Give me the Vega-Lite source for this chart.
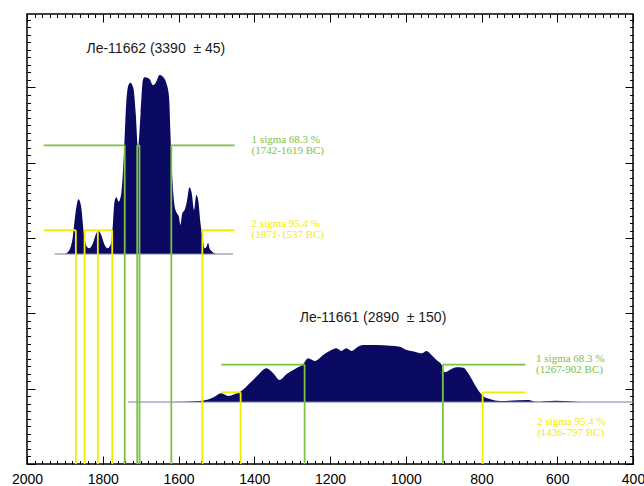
{
  "$schema": "https://vega.github.io/schema/vega-lite/v6.json",
  "width": 606,
  "height": 450,
  "autosize": {"type": "none"},
  "padding": {"left": 27, "top": 14, "right": 11, "bottom": 22},
  "background": "white",
  "config": {
    "view": {"stroke": "#000", "strokeWidth": 1.5},
    "axis": {"domain": false, "grid": false, "tickColor": "#000", "tickWidth": 1, "title": null}
  },
  "resolve": {"axis": {"x": "independent", "y": "independent"}},
  "datasets": {
    "dist1": [
      {"year": 1927, "v": 2.789}, {"year": 1901, "v": 2.789}, {"year": 1888, "v": 2.842}, {"year": 1879, "v": 3.019},
      {"year": 1872, "v": 3.329}, {"year": 1864, "v": 3.515}, {"year": 1857, "v": 3.417}, {"year": 1850, "v": 3.064},
      {"year": 1842, "v": 2.886}, {"year": 1835, "v": 2.865}, {"year": 1826, "v": 2.931}, {"year": 1817, "v": 3.064},
      {"year": 1811, "v": 3.098}, {"year": 1804, "v": 3.041}, {"year": 1795, "v": 2.908}, {"year": 1787, "v": 2.865},
      {"year": 1778, "v": 2.931}, {"year": 1773, "v": 3.197}, {"year": 1769, "v": 3.483}, {"year": 1764, "v": 3.542},
      {"year": 1758, "v": 3.483}, {"year": 1751, "v": 3.595}, {"year": 1744, "v": 4.126}, {"year": 1738, "v": 4.79},
      {"year": 1732, "v": 5.033}, {"year": 1727, "v": 5.064}, {"year": 1719, "v": 4.989}, {"year": 1713, "v": 4.657},
      {"year": 1707, "v": 4.2}, {"year": 1700, "v": 4.661}, {"year": 1694, "v": 5.1}, {"year": 1690, "v": 5.135},
      {"year": 1676, "v": 5.109}, {"year": 1668, "v": 5.033}, {"year": 1660, "v": 5.064}, {"year": 1650, "v": 5.166},
      {"year": 1641, "v": 5.143}, {"year": 1632, "v": 5.056}, {"year": 1625, "v": 4.878}, {"year": 1621, "v": 4.347},
      {"year": 1616, "v": 3.772}, {"year": 1610, "v": 3.417}, {"year": 1604, "v": 3.329}, {"year": 1599, "v": 3.284},
      {"year": 1595, "v": 3.174}, {"year": 1590, "v": 3.329}, {"year": 1584, "v": 3.373}, {"year": 1578, "v": 3.483},
      {"year": 1571, "v": 3.675}, {"year": 1565, "v": 3.595}, {"year": 1559, "v": 3.373}, {"year": 1553, "v": 3.572},
      {"year": 1548, "v": 3.506}, {"year": 1542, "v": 3.197}, {"year": 1537, "v": 3.019}, {"year": 1531, "v": 2.865},
      {"year": 1526, "v": 2.886}, {"year": 1522, "v": 2.939}, {"year": 1518, "v": 2.865}, {"year": 1511, "v": 2.819},
      {"year": 1500, "v": 2.789}, {"year": 1456, "v": 2.789}
    ],
    "dist2": [
      {"year": 1734, "v": 0.823}, {"year": 1619, "v": 0.823}, {"year": 1544, "v": 0.837}, {"year": 1518, "v": 0.863},
      {"year": 1505, "v": 0.894}, {"year": 1487, "v": 0.939}, {"year": 1469, "v": 0.903}, {"year": 1452, "v": 0.926},
      {"year": 1434, "v": 0.969}, {"year": 1412, "v": 1.072}, {"year": 1390, "v": 1.182}, {"year": 1368, "v": 1.271},
      {"year": 1350, "v": 1.205}, {"year": 1333, "v": 1.116}, {"year": 1315, "v": 1.191}, {"year": 1289, "v": 1.271},
      {"year": 1271, "v": 1.324}, {"year": 1258, "v": 1.404}, {"year": 1240, "v": 1.368}, {"year": 1218, "v": 1.448},
      {"year": 1201, "v": 1.501}, {"year": 1183, "v": 1.537}, {"year": 1170, "v": 1.501}, {"year": 1157, "v": 1.537},
      {"year": 1143, "v": 1.501}, {"year": 1126, "v": 1.558}, {"year": 1113, "v": 1.58}, {"year": 1077, "v": 1.58},
      {"year": 1042, "v": 1.571}, {"year": 1016, "v": 1.558}, {"year": 998, "v": 1.514}, {"year": 976, "v": 1.491},
      {"year": 958, "v": 1.47}, {"year": 945, "v": 1.501}, {"year": 932, "v": 1.448}, {"year": 919, "v": 1.381},
      {"year": 905, "v": 1.315}, {"year": 897, "v": 1.218}, {"year": 884, "v": 1.248}, {"year": 866, "v": 1.284},
      {"year": 848, "v": 1.279}, {"year": 835, "v": 1.205}, {"year": 822, "v": 1.093}, {"year": 809, "v": 0.983},
      {"year": 796, "v": 0.903}, {"year": 778, "v": 0.863}, {"year": 751, "v": 0.837}, {"year": 676, "v": 0.85},
      {"year": 658, "v": 0.827}, {"year": 605, "v": 0.841}, {"year": 517, "v": 0.823}, {"year": 400, "v": 0.823}
    ],
    "baselines": [
      {"year": 1927, "year2": 1456, "v": 2.789},
      {"year": 1734, "year2": 400, "v": 0.823}
    ],
    "hseg": [
      {"year": 1956, "year2": 1742, "v": 4.232, "sigma": "1"},
      {"year": 1709, "year2": 1703, "v": 4.232, "sigma": "1"},
      {"year": 1619, "year2": 1452, "v": 4.232, "sigma": "1"},
      {"year": 1487, "year2": 1267, "v": 1.321, "sigma": "1"},
      {"year": 902, "year2": 684, "v": 1.321, "sigma": "1"},
      {"year": 1956, "year2": 1871, "v": 3.104, "sigma": "2"},
      {"year": 1848, "year2": 1775, "v": 3.104, "sigma": "2"},
      {"year": 1537, "year2": 1452, "v": 3.104, "sigma": "2"},
      {"year": 1487, "year2": 1436, "v": 0.952, "sigma": "2"},
      {"year": 797, "year2": 684, "v": 0.952, "sigma": "2"}
    ],
    "vseg": [
      {"year": 1742, "v": 4.232, "sigma": "1"},
      {"year": 1709, "v": 4.232, "sigma": "1"},
      {"year": 1703, "v": 4.232, "sigma": "1"},
      {"year": 1619, "v": 4.232, "sigma": "1"},
      {"year": 1267, "v": 1.321, "sigma": "1"},
      {"year": 902, "v": 1.321, "sigma": "1"},
      {"year": 1871, "v": 3.104, "sigma": "2"},
      {"year": 1848, "v": 3.104, "sigma": "2"},
      {"year": 1813, "v": 3.104, "sigma": "2"},
      {"year": 1775, "v": 3.104, "sigma": "2"},
      {"year": 1537, "v": 3.104, "sigma": "2"},
      {"year": 1436, "v": 0.952, "sigma": "2"},
      {"year": 797, "v": 0.952, "sigma": "2"}
    ],
    "titles": [
      {"year": 1843, "v": 5.511, "t": "Ле-11662 (3390\u00a0 ± 45)"},
      {"year": 1280, "v": 1.935, "t": "Ле-11661 (2890\u00a0 ± 150)"}
    ],
    "sigmatext": [
      {"year": 1407, "v": 4.303, "t": "1 sigma 68.3 %", "sigma": "1"},
      {"year": 1407, "v": 4.157, "t": "(1742-1619 BC)", "sigma": "1"},
      {"year": 1407, "v": 3.187, "t": "2 sigma 95.4 %", "sigma": "2"},
      {"year": 1407, "v": 3.041, "t": "(1871-1537 BC)", "sigma": "2"},
      {"year": 656, "v": 1.39, "t": "1 sigma 68.3 %", "sigma": "1"},
      {"year": 656, "v": 1.248, "t": "(1267-902 BC)", "sigma": "1"},
      {"year": 653, "v": 0.562, "t": "2 sigma 95.4 %", "sigma": "2"},
      {"year": 653, "v": 0.408, "t": "(1436-797 BC)", "sigma": "2"}
    ]
  },
  "layer": [
    {
      "data": {"name": "dist1"},
      "mark": {"type": "area", "color": "#0b0a62", "interpolate": "monotone"},
      "encoding": {
        "x": {"field": "year", "type": "quantitative", "scale": {"domain": [400, 2000], "reverse": true, "nice": false, "zero": false},
          "axis": {"orient": "bottom", "values": [2000, 1800, 1600, 1400, 1200, 1000, 800, 600, 400], "tickSize": -8, "labelPadding": 16, "labelFont": "Liberation Sans", "labelFontSize": 14, "labelColor": "#000", "labelFlush": false, "labelOverlap": false, "format": "d"}},
        "y": {"field": "v", "type": "quantitative", "scale": {"domain": [0, 5.976], "nice": false, "zero": false},
          "axis": {"orient": "left", "values": [0, 1, 2, 3, 4, 5], "tickSize": -8, "labels": false}},
        "y2": {"datum": 2.789}
      }
    },
    {
      "data": {"name": "dist2"},
      "mark": {"type": "area", "color": "#0b0a62", "interpolate": "monotone"},
      "encoding": {
        "x": {"field": "year", "type": "quantitative", "scale": {"domain": [400, 2000], "reverse": true, "nice": false, "zero": false},
          "axis": {"orient": "bottom", "values": [400,420,440,460,480,500,520,540,560,580,600,620,640,660,680,700,720,740,760,780,800,820,840,860,880,900,920,940,960,980,1000,1020,1040,1060,1080,1100,1120,1140,1160,1180,1200,1220,1240,1260,1280,1300,1320,1340,1360,1380,1400,1420,1440,1460,1480,1500,1520,1540,1560,1580,1600,1620,1640,1660,1680,1700,1720,1740,1760,1780,1800,1820,1840,1860,1880,1900,1920,1940,1960,1980,2000], "tickSize": -3.5, "labels": false}},
        "y": {"field": "v", "type": "quantitative", "scale": {"domain": [0, 5.976], "nice": false, "zero": false},
          "axis": {"orient": "left", "values": [0.1,0.2,0.3,0.4,0.5,0.6,0.7,0.8,0.9,1.1,1.2,1.3,1.4,1.5,1.6,1.7,1.8,1.9,2.1,2.2,2.3,2.4,2.5,2.6,2.7,2.8,2.9,3.1,3.2,3.3,3.4,3.5,3.6,3.7,3.8,3.9,4.1,4.2,4.3,4.4,4.5,4.6,4.7,4.8,4.9,5.1,5.2,5.3,5.4,5.5,5.6,5.7,5.8,5.9], "tickSize": -3.5, "labels": false}},
        "y2": {"datum": 0.823}
      }
    },
    {
      "data": {"name": "baselines"},
      "mark": {"type": "rule", "color": "#7c7ca0", "strokeWidth": 1},
      "encoding": {
        "x": {"field": "year", "type": "quantitative", "scale": {"domain": [400, 2000], "reverse": true, "nice": false, "zero": false},
          "axis": {"orient": "top", "values": [2000, 1800, 1600, 1400, 1200, 1000, 800, 600, 400], "tickSize": -8, "labels": false}},
        "x2": {"field": "year2"},
        "y": {"field": "v", "type": "quantitative", "scale": {"domain": [0, 5.976], "nice": false, "zero": false},
          "axis": {"orient": "right", "values": [0, 1, 2, 3, 4, 5], "tickSize": -8, "labels": false}}
      }
    },
    {
      "data": {"name": "hseg"},
      "mark": {"type": "rule", "strokeWidth": 1.8},
      "encoding": {
        "x": {"field": "year", "type": "quantitative", "scale": {"domain": [400, 2000], "reverse": true, "nice": false, "zero": false},
          "axis": {"orient": "top", "values": [400,420,440,460,480,500,520,540,560,580,600,620,640,660,680,700,720,740,760,780,800,820,840,860,880,900,920,940,960,980,1000,1020,1040,1060,1080,1100,1120,1140,1160,1180,1200,1220,1240,1260,1280,1300,1320,1340,1360,1380,1400,1420,1440,1460,1480,1500,1520,1540,1560,1580,1600,1620,1640,1660,1680,1700,1720,1740,1760,1780,1800,1820,1840,1860,1880,1900,1920,1940,1960,1980,2000], "tickSize": -3.5, "labels": false}},
        "x2": {"field": "year2"},
        "y": {"field": "v", "type": "quantitative", "scale": {"domain": [0, 5.976], "nice": false, "zero": false},
          "axis": {"orient": "right", "values": [0.1,0.2,0.3,0.4,0.5,0.6,0.7,0.8,0.9,1.1,1.2,1.3,1.4,1.5,1.6,1.7,1.8,1.9,2.1,2.2,2.3,2.4,2.5,2.6,2.7,2.8,2.9,3.1,3.2,3.3,3.4,3.5,3.6,3.7,3.8,3.9,4.1,4.2,4.3,4.4,4.5,4.6,4.7,4.8,4.9,5.1,5.2,5.3,5.4,5.5,5.6,5.7,5.8,5.9], "tickSize": -3.5, "labels": false}},
        "color": {"field": "sigma", "type": "nominal", "scale": {"domain": ["1", "2"], "range": ["#7dc243", "#f2ec00"]}, "legend": null}
      }
    },
    {
      "data": {"name": "vseg"},
      "mark": {"type": "rule", "strokeWidth": 1.8},
      "encoding": {
        "x": {"field": "year", "type": "quantitative", "scale": {"domain": [400, 2000], "reverse": true, "nice": false, "zero": false}, "axis": null},
        "y": {"field": "v", "type": "quantitative", "scale": {"domain": [0, 5.976], "nice": false, "zero": false}, "axis": null},
        "y2": {"datum": 0},
        "color": {"field": "sigma", "type": "nominal", "scale": {"domain": ["1", "2"], "range": ["#7dc243", "#f2ec00"]}, "legend": null}
      }
    },
    {
      "data": {"name": "titles"},
      "mark": {"type": "text", "font": "Liberation Sans", "fontSize": 14, "align": "left", "baseline": "middle", "color": "#1a1a1a"},
      "encoding": {
        "x": {"field": "year", "type": "quantitative", "scale": {"domain": [400, 2000], "reverse": true, "nice": false, "zero": false}, "axis": null},
        "y": {"field": "v", "type": "quantitative", "scale": {"domain": [0, 5.976], "nice": false, "zero": false}, "axis": null},
        "text": {"field": "t"}
      }
    },
    {
      "data": {"name": "sigmatext"},
      "mark": {"type": "text", "font": "Liberation Serif", "fontSize": 11, "align": "left", "baseline": "middle"},
      "encoding": {
        "x": {"field": "year", "type": "quantitative", "scale": {"domain": [400, 2000], "reverse": true, "nice": false, "zero": false}, "axis": null},
        "y": {"field": "v", "type": "quantitative", "scale": {"domain": [0, 5.976], "nice": false, "zero": false}, "axis": null},
        "text": {"field": "t"},
        "color": {"field": "sigma", "type": "nominal", "scale": {"domain": ["1", "2"], "range": ["#7dc243", "#f2ec00"]}, "legend": null}
      }
    }
  ]
}
